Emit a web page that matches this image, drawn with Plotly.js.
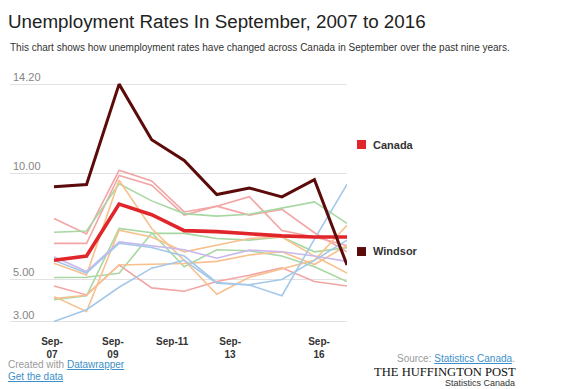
<!DOCTYPE html>
<html>
<head>
<meta charset="utf-8">
<script src="https://cdn.plot.ly/plotly-3.0.1.min.js"></script>
<style>html,body{margin:0;padding:0;background:#fff;}#chart{width:570px;height:389px;}</style>
</head>
<body>
<div id="chart"></div>
<script>
// ---- data ----
var years = [2007, 2008, 2009, 2010, 2011, 2012, 2013, 2014, 2015, 2016];
var xTickLabels = ['Sep-<br>07', 'Sep-<br>09', 'Sep-11', 'Sep-<br>13', 'Sep-<br>16'];
var yTickValues = [3, 5, 10, 14.2];

var canada  = [5.9, 6.1, 8.55, 8.05, 7.3, 7.25, 7.15, 7.05, 7.0, 7.0];
var windsor = [9.36, 9.47, 14.2, 11.58, 10.6, 9.0, 9.31, 8.89, 9.7, 5.68];

var pinkA   = [7.87, 7.14, 10.14, 9.64, 8.18, 8.45, 8.9, 7.3, 7.0, 6.6];
var pinkB   = [6.7, 6.7, 9.9, 9.44, 8.03, 8.45, 8.03, 8.3, 7.2, 6.3];
var pinkC   = [4.69, 4.27, 5.68, 4.6, 4.44, 4.9, 5.2, 5.55, 4.9, 4.69];
var greenA  = [7.22, 7.28, 9.5, 8.7, 8.1, 7.98, 8.07, 8.37, 8.65, 7.64];
var greenB  = [5.09, 5.1, 5.29, 7.17, 7.17, 6.93, 6.85, 7.0, 6.3, 6.5];
var greenC  = [4.04, 4.23, 7.4, 7.2, 5.6, 6.4, 6.35, 6.1, 5.6, 4.9];
var orangeA = [5.76, 5.21, 9.67, 7.4, 5.9, 4.3, 5.1, 5.5, 5.9, 7.55];
var orangeB = [4.19, 3.49, 7.32, 7.0, 6.3, 6.62, 6.93, 7.0, 6.1, 5.3];
var orangeC = [4.1, 4.25, 5.68, 5.7, 5.75, 5.85, 6.15, 6.3, 5.7, 6.6];
var purple  = [6.07, 5.37, 6.77, 6.6, 6.4, 6.0, 6.38, 6.3, 6.1, 5.85];
var blueA   = [3.02, 3.57, 4.63, 5.53, 5.9, 4.82, 4.74, 4.23, 6.9, 9.48];
var blueB   = [5.9, 5.3, 6.7, 6.5, 6.1, 4.85, 4.75, 5.0, 5.9, 6.85];

// ---- styles ----
var PINK = '#f3a5a5', GREEN = '#a8d8a2', ORANGE = '#f6c18e', BLUE = '#a4c8ea', PURPLE = '#cab7ec';
var thin = [
  [pinkA, PINK], [pinkB, PINK], [pinkC, PINK],
  [greenA, GREEN], [greenB, GREEN], [greenC, GREEN],
  [orangeA, ORANGE], [orangeB, ORANGE], [orangeC, ORANGE],
  [purple, PURPLE], [blueA, BLUE], [blueB, BLUE]
];

var traces = thin.map(function (s) {
  return {x: years, y: s[0], type: 'scatter', mode: 'lines',
          line: {color: s[1], width: 1.6}, hoverinfo: 'skip'};
});
traces.push({x: years, y: canada, type: 'scatter', mode: 'lines', line: {color: '#e0262a', width: 3.6}});
traces.push({x: years, y: windsor, type: 'scatter', mode: 'lines', line: {color: '#5c0b0b', width: 3}});

var FONT = 'Liberation Sans, Arial, sans-serif';
var annotations = yTickValues.map(function (v) {
  return {x: 0, xref: 'paper', y: v, yref: 'y', xanchor: 'left', yanchor: 'bottom',
          xshift: 1, yshift: -1, showarrow: false, text: v.toFixed(2),
          font: {family: FONT, size: 11, color: '#858585'}};
});

function pa(extra) { return Object.assign({xref: 'paper', yref: 'paper', showarrow: false}, extra); }

annotations.push(pa({x: -0.0059, y: 1.1446, xanchor: 'left', yanchor: 'middle',
  text: 'This chart shows how unemployment rates have changed across Canada in September over the past nine years.',
  font: {family: FONT, size: 10, color: '#333'}}));
annotations.push(pa({x: 1.0712, y: 0.7417, xanchor: 'left', yanchor: 'middle',
  text: '<b>Canada</b>', font: {family: FONT, size: 11, color: '#333'}}));
annotations.push(pa({x: 1.0712, y: 0.2996, xanchor: 'left', yanchor: 'middle',
  text: '<b>Windsor</b>', font: {family: FONT, size: 11, color: '#333'}}));
annotations.push(pa({x: -0.0089, y: -0.1675, xanchor: 'left', yanchor: 'middle', borderpad: 0,
  text: 'Created with <span style="color:#3c8fc9;text-decoration:underline">Datawrapper</span>',
  font: {family: FONT, size: 10, color: '#9a9a9a'}}));
annotations.push(pa({x: -0.0089, y: -0.2149, xanchor: 'left', yanchor: 'middle', borderpad: 0,
  text: '<span style="text-decoration:underline">Get the data</span>',
  font: {family: FONT, size: 10, color: '#3c8fc9'}}));
annotations.push(pa({x: 1.5015, y: -0.1446, xanchor: 'right', yanchor: 'middle', borderpad: 0,
  text: 'Source: <span style="color:#3c8fc9;text-decoration:underline">Statistics Canada</span>.',
  font: {family: FONT, size: 10, color: '#9a9a9a'}}));
annotations.push(pa({x: 1.5045, y: -0.1985, xanchor: 'right', yanchor: 'middle', borderpad: 0,
  text: 'THE HUFFINGTON POST', font: {family: 'Liberation Serif, Times New Roman, serif', size: 12.6, color: '#111'}}));
annotations.push(pa({x: 1.5015, y: -0.2437, xanchor: 'right', yanchor: 'middle', borderpad: 0,
  text: 'Statistics Canada', font: {family: FONT, size: 9, color: '#333'}}));

var shapes = [
  {type: 'rect', xref: 'paper', yref: 'paper', x0: 1.0297, x1: 1.0564, y0: 0.7231, y1: 0.7603,
   fillcolor: '#e0262a', line: {width: 0}},
  {type: 'rect', xref: 'paper', yref: 'paper', x0: 1.0297, x1: 1.0564, y0: 0.281, y1: 0.318,
   fillcolor: '#5c0b0b', line: {width: 0}}
];

var layout = {
  width: 570, height: 389,
  margin: {l: 10, r: 223, t: 82, b: 65, pad: 0},
  paper_bgcolor: '#fff', plot_bgcolor: '#fff',
  showlegend: false,
  title: {text: 'Unemployment Rates In September, 2007 to 2016', x: 8 / 570, xanchor: 'left',
          xref: 'container', y: 1 - 21 / 389, yanchor: 'middle', yref: 'container',
          font: {family: FONT, size: 18.8, color: '#222'}},
  xaxis: {range: [2005.649, 2016], showgrid: false, zeroline: false, showline: false, ticks: '',
          tickvals: [2006.94, 2008.81, 2010.63, 2012.41, 2015.14],
          ticktext: xTickLabels.map(function (t) { return t.split('<br>').map(function (p) { return '<b>' + p + '</b>'; }).join('<br>'); }),
          ticklabelstandoff: 10,
          tickfont: {family: FONT, size: 10, color: '#333'}, fixedrange: true},
  yaxis: {range: [2.9, 14.3], tickvals: yTickValues, showticklabels: false, showgrid: true,
          gridcolor: '#e2e2e2', gridwidth: 1, zeroline: false, showline: false, ticks: '', fixedrange: true},
  annotations: annotations,
  shapes: shapes
};

Plotly.newPlot('chart', traces, layout, {staticPlot: true, displayModeBar: false});
</script>
</body>
</html>
